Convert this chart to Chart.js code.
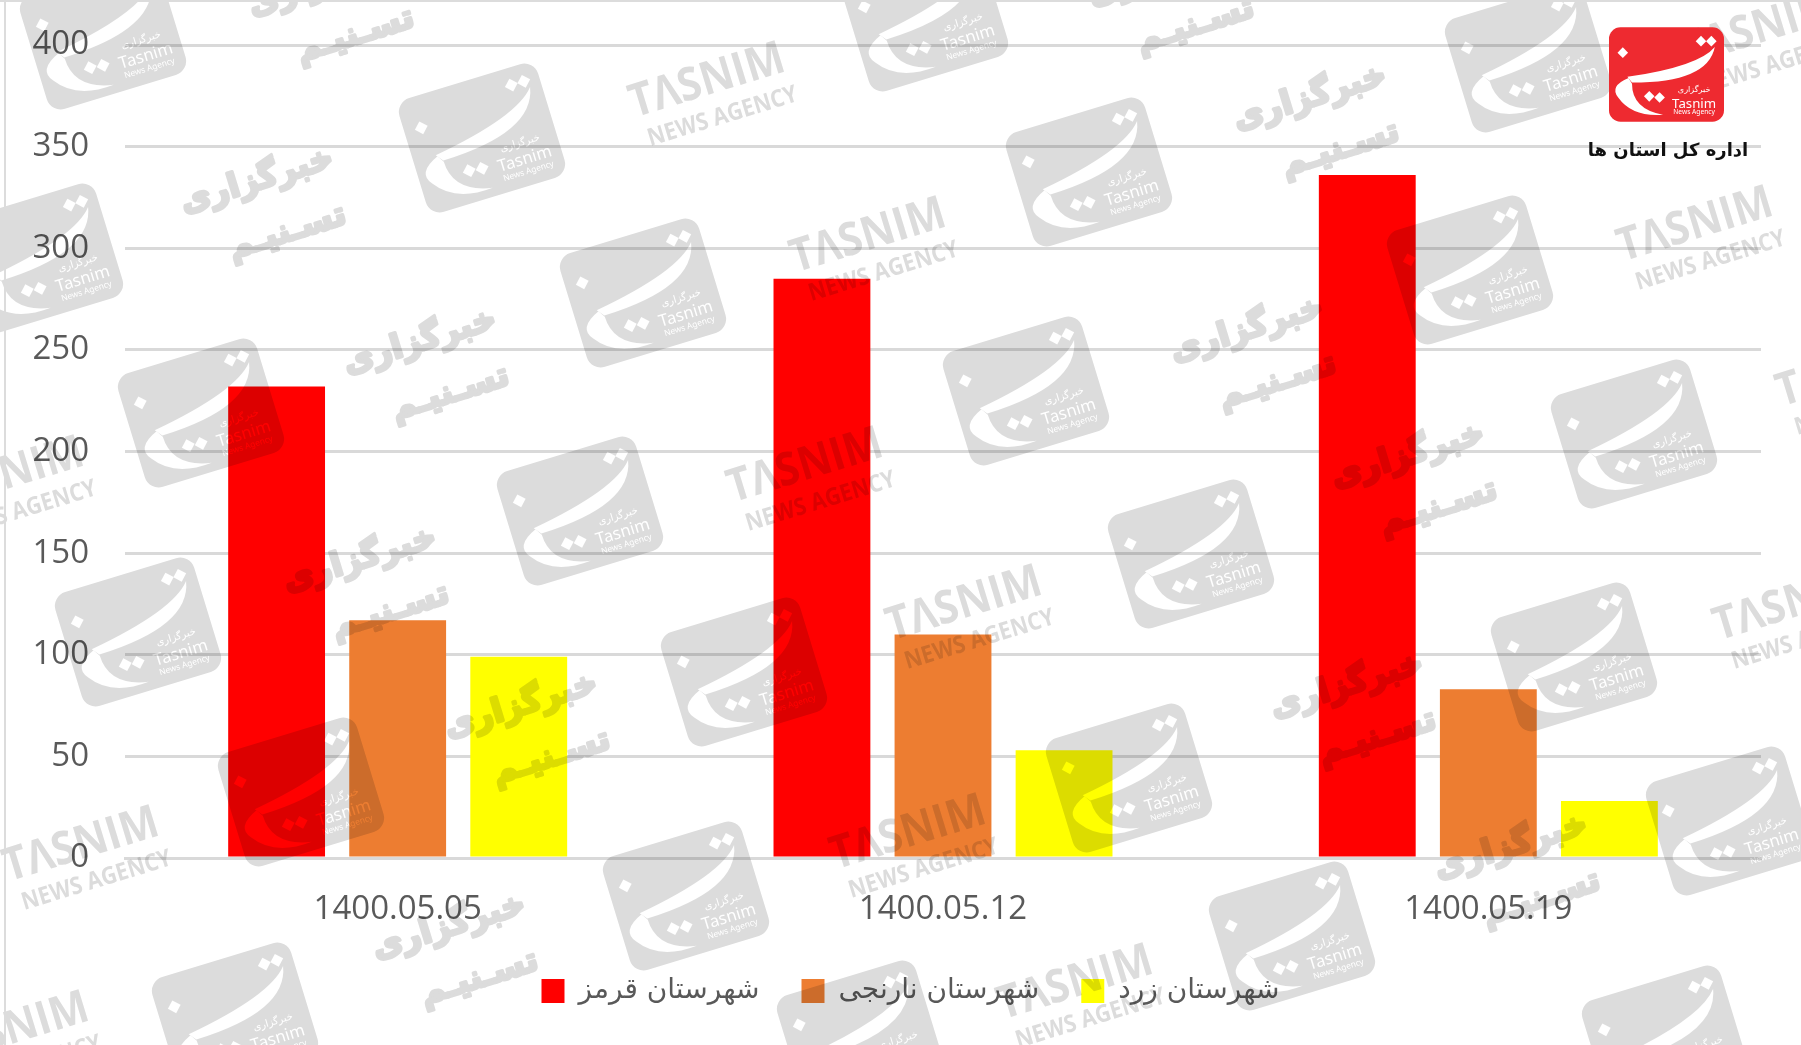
<!DOCTYPE html>
<html>
<head>
<meta charset="utf-8">
<style>
  html, body { margin: 0; padding: 0; background: #fff; }
  #wrap { position: relative; width: 1801px; height: 1045px; overflow: hidden; }
</style>
<script src="https://cdn.jsdelivr.net/npm/chart.js@4"></script>
</head>
<body>
<div id="wrap"><canvas id="chart" width="1801" height="1045"></canvas></div>
<script>
const categories = ["1400.05.05", "1400.05.12", "1400.05.19"];
const redValues = [232, 285, 336];
const orangeValues = [117, 110, 83];
const yellowValues = [99, 53, 28];
const seriesNames = ["شهرستان قرمز", "شهرستان نارنجی", "شهرستان زرد"];
const seriesColors = ["#ff0000", "#ed7d31", "#ffff00"];

// watermark centres, only decoration
const logoSpots = [[103,35],[482,138],[1089,172],[1528,58],[925,17],[40,258],[643,293],[1470,270],[201,413],[1026,391],[1634,434],[580,511],[1191,554],[138,632],[744,672],[1574,657],[301,792],[1129,778],[1729,821],[686,896],[1292,936],[235,1017],[1665,1040],[860,1035]];
const agencySpots = [[711,94],[872,249],[809,479],[968,617],[912,846],[1699,238],[1795,617],[85,858],[1079,996],[1858,383],[1763,42],[10,488],[15,1043]];
const persianSpots = [[262,197],[1315,114],[425,358],[1252,346],[1413,472],[365,576],[526,722],[1352,702],[1516,863],[454,943],[330,0],[1170,-10]];

function dot(g, x, y, s) {
  g.save();
  g.translate(x, y);
  g.rotate(Math.PI / 4);
  g.fillRect(-s / 2, -s / 2, s, s);
  g.restore();
}

function drawLogoShape(g, w, fill, cut) {
  const p = v => v * w;
  g.fillStyle = fill;
  g.beginPath();
  g.roundRect(-w / 2, -p(0.41), w, p(0.82), p(0.1));
  g.fill();
  g.save();
  if (cut) g.globalCompositeOperation = "destination-out";
  g.fillStyle = "#fff";
  // upper crescent
  g.beginPath();
  g.moveTo(p(0.42), p(-0.24));
  g.quadraticCurveTo(p(0.36), p(0.07), p(-0.3), p(0.07));
  g.lineTo(p(-0.34), p(0.02));
  g.quadraticCurveTo(p(0.28), p(-0.07), p(0.42), p(-0.24));
  g.fill();
  // lower bowl
  g.beginPath();
  g.moveTo(p(-0.33), p(0.03));
  g.quadraticCurveTo(p(-0.5), p(0.1), p(-0.42), p(0.2));
  g.quadraticCurveTo(p(-0.3), p(0.37), p(-0.03), p(0.35));
  g.quadraticCurveTo(p(-0.3), p(0.3), p(-0.3), p(0.08));
  g.fill();
  [[0.3, -0.29], [0.39, -0.29], [-0.38, -0.19], [-0.15, 0.19], [-0.06, 0.2]].forEach(d => dot(g, p(d[0]), p(d[1]), p(0.065)));
  g.textAlign = "center";
  g.font = p(0.115) + "px 'Noto Sans', sans-serif";
  g.fillText("Tasnim", p(0.24), p(0.26));
  g.font = p(0.058) + "px 'Noto Sans', sans-serif";
  g.fillText("News Agency", p(0.24), p(0.33));
  g.font = p(0.07) + "px 'DejaVu Sans', sans-serif";
  g.fillText("خبرگزاری", p(0.24), p(0.13));
  g.restore();
}

function buildWatermarks() {
  const layer = document.createElement("canvas");
  layer.width = 1801;
  layer.height = 1045;
  const g = layer.getContext("2d");
  const angle = -17 * Math.PI / 180;
  const grey = "#dcdcdc";
  logoSpots.forEach(s => {
    g.save();
    g.translate(s[0], s[1]);
    g.rotate(angle);
    drawLogoShape(g, 145, grey, true);
    g.restore();
  });
  g.fillStyle = grey;
  g.strokeStyle = grey;
  g.textAlign = "center";
  agencySpots.forEach(s => {
    g.save();
    g.translate(s[0], s[1]);
    g.rotate(angle);
    g.scale(0.9, 1);
    g.font = "bold 46px 'Liberation Sans Narrow', 'Open Sans', sans-serif";
    g.fillText("TΛSNIM", 0, 0);
    g.font = "bold 24px 'Liberation Sans Narrow', 'Open Sans', sans-serif";
    g.fillText("NEWS AGENCY", 5, 32);
    g.restore();
  });
  g.lineWidth = 3;
  g.lineJoin = "round";
  persianSpots.forEach(s => {
    g.save();
    g.translate(s[0], s[1]);
    g.rotate(angle);
    g.font = "bold 33px 'DejaVu Sans', sans-serif";
    g.fillText("خبرگزاری", 0, -8);
    g.strokeText("خبرگزاری", 0, -8);
    g.fillText("تسـنیـم", 14, 50);
    g.strokeText("تسـنیـم", 14, 50);
    g.restore();
  });
  return layer;
}

const watermarkLayer = buildWatermarks();

const overlayPlugin = {
  id: "overlay",
  afterLayout(chart) {
    // legend sits a bit right of the canvas centre
    chart.legend.left += 30;
    chart.legend.right += 30;
  },
  afterDraw(chart) {
    const c = chart.ctx;
    c.save();
    c.globalCompositeOperation = "multiply";
    c.drawImage(watermarkLayer, 0, 0);
    c.restore();
    // frame lines of the original picture
    c.save();
    c.fillStyle = "#dcdcdc";
    c.fillRect(4, 0, 2, 1045);
    c.fillRect(0, 0, 1801, 2);
    // agency logo, top right
    c.translate(1666.5, 74.5);
    drawLogoShape(c, 115, "#ee2a30", false);
    c.restore();
    c.save();
    c.fillStyle = "#111";
    c.textAlign = "center";
    c.textBaseline = "middle";
    c.font = "bold 18px 'DejaVu Sans', sans-serif";
    c.fillText("اداره کل استان ها", 1668, 151);
    c.restore();
  }
};

new Chart(document.getElementById("chart"), {
  type: "bar",
  data: {
    labels: categories,
    datasets: [
      { label: seriesNames[0], data: redValues, backgroundColor: seriesColors[0] },
      { label: seriesNames[1], data: orangeValues, backgroundColor: seriesColors[1] },
      { label: seriesNames[2], data: yellowValues, backgroundColor: seriesColors[2] },
    ],
  },
  options: {
    responsive: false,
    animation: false,
    devicePixelRatio: 1,
    datasets: { bar: { categoryPercentage: 0.666, barPercentage: 0.8 } },
    layout: { padding: { left: 0, right: 40, top: 45, bottom: 30 } },
    plugins: {
      title: { display: false },
      tooltip: { enabled: false },
      legend: {
        position: "bottom",
        labels: {
          boxWidth: 23,
          boxHeight: 24,
          padding: 42,
          color: "#595959",
          font: { family: "'DejaVu Sans', sans-serif", size: 28 },
        },
      },
    },
    scales: {
      x: {
        grid: { display: false },
        border: { color: "#d9d9d9", width: 3 },
        ticks: {
          color: "#595959",
          padding: 24,
          maxRotation: 0,
          font: { family: "'Open Sans', sans-serif", size: 33 },
        },
        afterFit(scale) { scale.height = 77; },
      },
      y: {
        min: 0,
        max: 400,
        grid: { color: "#d9d9d9", lineWidth: 3, drawTicks: false },
        border: { display: false },
        ticks: {
          stepSize: 50,
          color: "#595959",
          padding: 36,
          font: { family: "'Open Sans', sans-serif", size: 33 },
        },
        afterFit(scale) { scale.width = 125; scale.paddingTop = 0; },
      },
    },
  },
  plugins: [overlayPlugin],
});
</script>
</body>
</html>
